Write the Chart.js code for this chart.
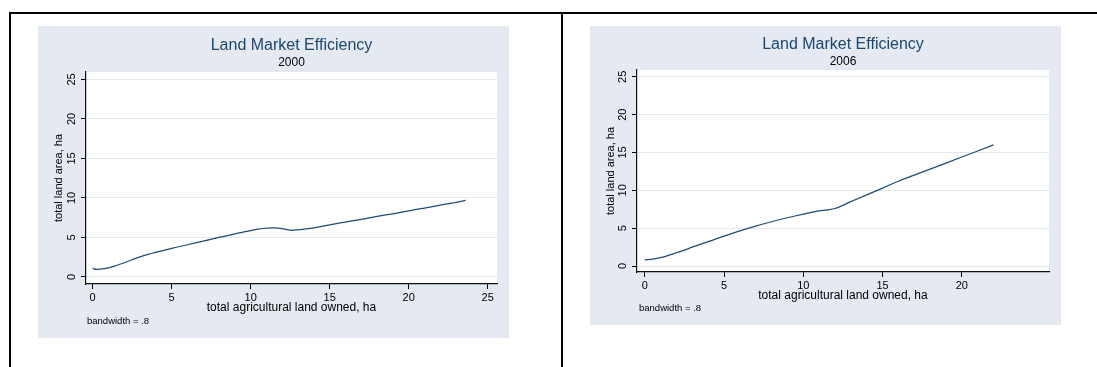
<!DOCTYPE html>
<html>
<head>
<meta charset="utf-8">
<script src="https://cdn.jsdelivr.net/npm/chart.js@4/dist/chart.umd.min.js"></script>
<style>
  html, body { margin: 0; padding: 0; background: #fff; width: 1097px; height: 367px; overflow: hidden; }
  .rule { position: absolute; background: #000; }
  .panel { position: absolute; background: #e5e9f2; }
  .panel canvas { display: block; }
</style>
</head>
<body>
<div class="rule" style="left:9px;top:12px;width:1088px;height:2px"></div>
<div class="rule" style="left:9px;top:12px;width:2px;height:355px"></div>
<div class="rule" style="left:561px;top:12px;width:2px;height:355px"></div>

<div class="panel" style="left:38px;top:26px;width:471px;height:312px">
  <canvas id="c2000" width="471" height="312"></canvas>
</div>
<div class="panel" style="left:590px;top:26px;width:471px;height:299px">
  <canvas id="c2006" width="471" height="299"></canvas>
</div>

<script>
// Labels
const chartTitle = 'Land Market Efficiency';
const xAxisTitle = 'total agricultural land owned, ha';
const yAxisTitle = 'total land area, ha';
const noteText = 'bandwidth = .8';

// Tick values
const yTickValues = [0, 5, 10, 15, 20, 25];
const xTicks2000 = [0, 5, 10, 15, 20, 25];
const xTicks2006 = [0, 5, 10, 15, 20];

// Local polynomial smooth, 2000
const owned2000 = [0, 0.25, 0.5, 0.75, 1, 1.5, 2, 2.5, 3, 3.5, 4, 4.5, 5, 6, 7, 8, 9, 10,
                   10.5, 11, 11.5, 12, 12.3, 12.55, 13, 13.5, 14, 15, 16, 17, 18, 19, 20, 21, 22, 23, 23.6];
const area2000  = [1.08, 0.97, 1.0, 1.07, 1.15, 1.45, 1.8, 2.18, 2.55, 2.86, 3.12, 3.38, 3.63, 4.08, 4.55, 5.0, 5.45, 5.88,
                   6.06, 6.18, 6.22, 6.12, 5.99, 5.9, 5.97, 6.08, 6.22, 6.6, 6.95, 7.3, 7.66, 8.0, 8.37, 8.73, 9.09, 9.45, 9.7];

// Local polynomial smooth, 2006
const owned2006 = [0, 0.5, 1, 1.5, 2, 2.5, 3, 3.5, 4, 4.5, 5, 6, 7, 8, 9, 10, 10.5, 11, 11.5, 12,
                   13, 14, 15, 16, 17, 18, 19, 20, 21, 22];
const area2006  = [0.8, 0.9, 1.1, 1.4, 1.75, 2.1, 2.5, 2.85, 3.22, 3.58, 3.95, 4.65, 5.28, 5.85, 6.38, 6.86, 7.08, 7.28, 7.42, 7.6,
                   8.5, 9.4, 10.3, 11.2, 12.0, 12.8, 13.6, 14.4, 15.2, 16.0];

Chart.defaults.font.family = '"Liberation Sans", Arial, Helvetica, sans-serif';
Chart.defaults.color = '#000';

const LINE = '#1f4a78';
const TITLE = '#1a476f';
const GRID = '#e4e9f0';

// white plot region
const plotFill = {
  id: 'plotFill',
  beforeDraw(chart) {
    const { ctx, chartArea: a } = chart;
    ctx.save();
    ctx.fillStyle = '#ffffff';
    ctx.fillRect(a.left, a.top, a.right - a.left, a.bottom - a.top);
    ctx.restore();
  }
};

// small note under the x axis
const notePlugin = {
  id: 'note',
  afterDraw(chart, args, opts) {
    const ctx = chart.ctx;
    ctx.save();
    ctx.font = '9.5px "Liberation Sans", Arial, sans-serif';
    ctx.fillStyle = '#000';
    ctx.textAlign = 'left';
    ctx.textBaseline = 'middle';
    ctx.fillText(opts.text, opts.x, opts.y);
    ctx.restore();
  }
};

function makeChart(id, cfg) {
  const pts = cfg.xs.map((x, i) => ({ x: x, y: cfg.ys[i] }));
  return new Chart(document.getElementById(id), {
    type: 'line',
    data: {
      datasets: [{
        data: pts,
        borderColor: LINE,
        borderWidth: 1.25,
        pointRadius: 0,
        fill: false,
        cubicInterpolationMode: 'monotone'
      }]
    },
    plugins: [plotFill, notePlugin],
    options: {
      responsive: false,
      animation: false,
      events: [],
      layout: { padding: { left: 0, right: 12, top: 0, bottom: 0 } },
      plugins: {
        legend: { display: false },
        tooltip: { enabled: false },
        title: {
          display: true, text: chartTitle, color: TITLE, fullSize: false,
          font: { size: 16, weight: 'normal' },
          padding: { top: cfg.titlePadTop, bottom: 0 }
        },
        subtitle: {
          display: true, text: cfg.year, color: '#000', fullSize: false,
          font: { size: 12, weight: 'normal' },
          padding: { top: cfg.subPadTop, bottom: cfg.subPadBottom }
        },
        note: { text: noteText, x: 49, y: cfg.noteY }
      },
      scales: {
        x: {
          type: 'linear',
          min: cfg.xMin, max: cfg.xMax,
          afterBuildTicks: s => { s.ticks = cfg.xTicks.map(v => ({ value: v })); },
          afterFit: s => { s.height = cfg.xHeight; },
          grid: { drawOnChartArea: false, drawTicks: true, tickLength: 5, tickColor: '#000', tickWidth: 1 },
          border: { display: true, color: '#111', width: 1.2 },
          ticks: { color: '#000', font: { size: 11 }, padding: 2, maxRotation: 0, autoSkip: false },
          title: {
            display: true, text: xAxisTitle, color: '#000',
            font: { size: 12 }, padding: { top: 0, bottom: cfg.xTitlePad }
          }
        },
        y: {
          type: 'linear',
          min: cfg.yMin, max: cfg.yMax,
          afterBuildTicks: s => { s.ticks = yTickValues.map(v => ({ value: v })); },
          afterFit: s => { s.width = cfg.yWidth; },
          grid: { color: GRID, lineWidth: 1, drawTicks: true, tickLength: 5, tickColor: '#000', tickWidth: 1 },
          border: { display: true, color: '#111', width: 1.2 },
          ticks: {
            color: '#000', font: { size: 11 }, padding: 3,
            minRotation: 90, maxRotation: 90, crossAlign: 'center', autoSkip: false
          },
          title: {
            display: true, text: yAxisTitle, color: '#000',
            font: { size: 11 }, padding: { top: 14, bottom: 0 }
          }
        }
      }
    }
  });
}

makeChart('c2000', {
  year: '2000', xs: owned2000, ys: area2000, xTicks: xTicks2000,
  xMin: -0.42, xMax: 25.59, yMin: -0.89, yMax: 25.95,
  titlePadTop: 10, subPadTop: 0.6, subPadBottom: 1.8,
  yWidth: 48, xHeight: 54, xTitlePad: 23, noteY: 295
});

makeChart('c2006', {
  year: '2006', xs: owned2006, ys: area2006, xTicks: xTicks2006,
  xMin: -0.49, xMax: 25.5, yMin: -0.79, yMax: 25.9,
  titlePadTop: 9, subPadTop: 0, subPadBottom: 1.4,
  yWidth: 47, xHeight: 53, xTitlePad: 22, noteY: 282
});
</script>
</body>
</html>
